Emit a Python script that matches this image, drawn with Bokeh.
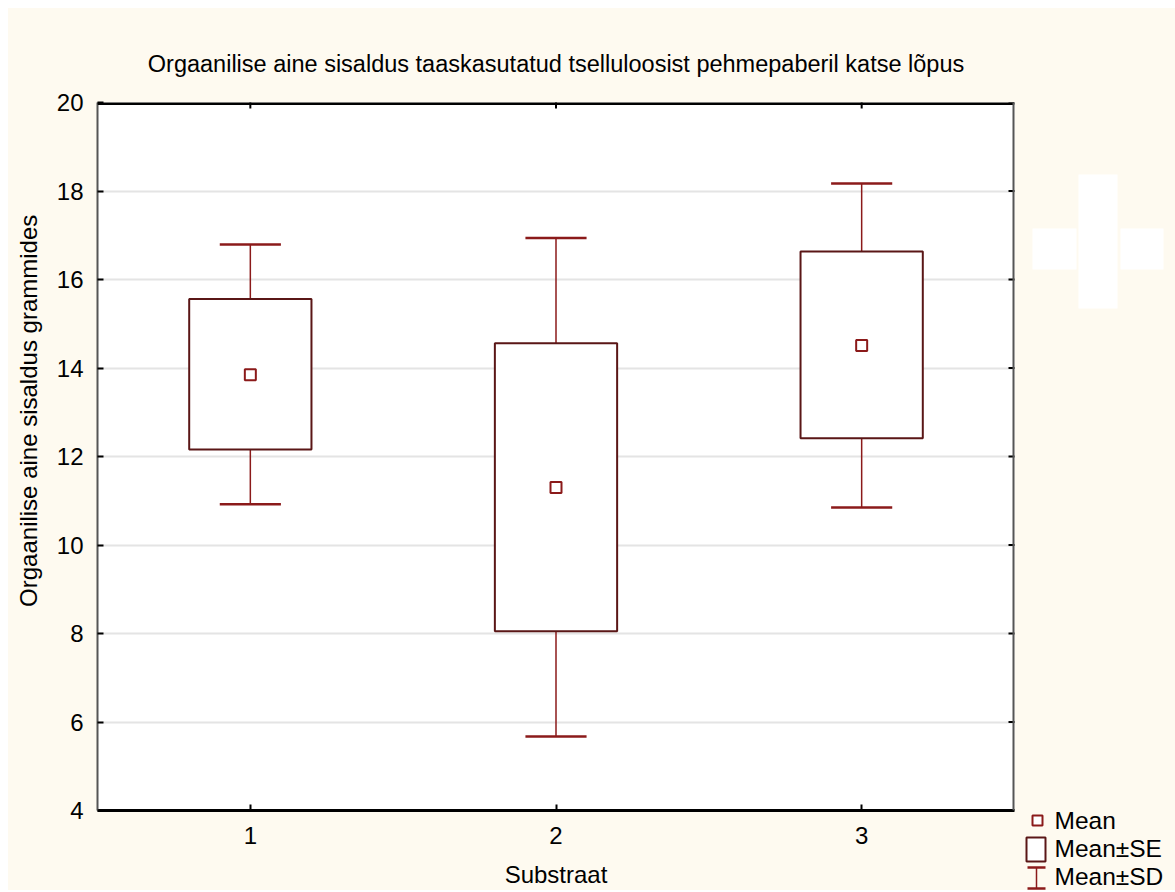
import math
from bokeh.plotting import figure
from bokeh.layouts import row
from bokeh.models import LinearAxis, FixedTicker, Range1d, ColumnDataSource, Span
from bokeh.core.properties import value
from bokeh.embed import file_html
from bokeh.resources import INLINE

# ---- data ----
categories = [1, 2, 3]
tick_labels = ["1", "2", "3"]
means = [13.85, 11.30, 14.51]
se_low = [12.16, 8.05, 12.41]
se_high = [15.56, 14.56, 16.63]
sd_low = [10.92, 5.67, 10.85]
sd_high = [16.79, 16.94, 18.17]
y_ticks = [4, 6, 8, 10, 12, 14, 16, 18, 20]

title_text = "Orgaanilise aine sisaldus taaskasutatud tselluloosist pehmepaberil katse lõpus"
x_label = "Substraat"
y_label = "Orgaanilise aine sisaldus  grammides"
legend_labels = ["Mean", "Mean±SE", "Mean±SD"]

# ---- styles ----
FONT = "Liberation Sans"
FS = "24px"
FS_TITLE = "23.5px"
FS_LEG = "24.5px"
BOX_COLOR = "#5a1616"
WHISK_COLOR = "#8b1a1a"
BG = "#fefaf0"

X0, X1, Y0, Y1 = 0.5, 3.5, 4, 20
# page geometry (pixels): top/left margin 8, frame box
PAGE_T, PAGE_B = 8, 890
FL, FR, FT, FB = 97, 1014, 102, 810
SPLIT_L, SPLIT_R = 48, 1020   # column boundaries between the three panels
H = PAGE_B - PAGE_T

# ================= main chart =================
p = figure(width=SPLIT_R - SPLIT_L, height=H, output_backend="svg", toolbar_location=None,
           x_range=Range1d(X0, X1), y_range=Range1d(Y0, Y1),
           min_border_left=FL - SPLIT_L, min_border_right=SPLIT_R - FR,
           min_border_top=FT - PAGE_T, min_border_bottom=PAGE_B - FB,
           x_axis_location=None, y_axis_location=None, frame_align=False)
p.background_fill_color = "white"
p.border_fill_color = BG
p.outline_line_color = None

p.title.text = title_text
p.title.text_font = FONT
p.title.text_font_size = FS_TITLE
p.title.text_font_style = "normal"
p.title.text_color = "black"
p.title.align = "center"
p.title.standoff = 51


def style_axis(ax, color, lw):
    ax.axis_line_color = color
    ax.axis_line_width = lw
    ax.major_tick_in = 6
    ax.major_tick_out = 0
    ax.major_tick_line_color = "black"
    ax.major_tick_line_width = 2
    ax.minor_tick_line_color = None
    ax.major_label_text_font = FONT
    ax.major_label_text_font_size = FS
    ax.major_label_text_color = "black"


xt = FixedTicker(ticks=categories)
yt = FixedTicker(ticks=y_ticks)

xb = LinearAxis(ticker=xt, major_label_overrides={c: t for c, t in zip(categories, tick_labels)})
style_axis(xb, "black", 3)
xb.major_label_standoff = 16
xb.axis_label = x_label
xb.axis_label_text_font = FONT
xb.axis_label_text_font_size = FS
xb.axis_label_text_font_style = "normal"
xb.axis_label_text_color = "black"
xb.axis_label_standoff = 14
p.add_layout(xb, "below")

yl = LinearAxis(ticker=yt)
style_axis(yl, "#555555", 2)
yl.major_label_standoff = 14
p.add_layout(yl, "left")

p.ygrid.ticker = yt
p.ygrid.grid_line_color = "#e4e4e4"
p.ygrid.grid_line_width = 2
p.xgrid.grid_line_color = None

# top and right frame edges with inside ticks
p.add_layout(Span(location=Y1, dimension="width", line_color="black", line_width=5))
p.add_layout(Span(location=X1, dimension="height", line_color="#555555", line_width=4))
p.scatter(x=categories, y=[Y1] * len(categories), marker="dash", angle=math.pi / 2,
          size=12, line_color="black", line_width=2)
p.scatter(x=[X1] * len(y_ticks), y=y_ticks, marker="dash", size=12,
          line_color="black", line_width=2)

# ---- marks ----
src = ColumnDataSource(dict(x=categories, mean=means, se_low=se_low, se_high=se_high,
                            sd_low=sd_low, sd_high=sd_high,
                            xl=[c - 0.1 for c in categories], xr=[c + 0.1 for c in categories]))

p.segment(x0="x", y0="se_high", x1="x", y1="sd_high", source=src,
          line_color=WHISK_COLOR, line_width=1.5)
p.segment(x0="x", y0="se_low", x1="x", y1="sd_low", source=src,
          line_color=WHISK_COLOR, line_width=1.5)
p.segment(x0="xl", y0="sd_high", x1="xr", y1="sd_high", source=src,
          line_color=WHISK_COLOR, line_width=2.5)
p.segment(x0="xl", y0="sd_low", x1="xr", y1="sd_low", source=src,
          line_color=WHISK_COLOR, line_width=2.5)
p.vbar(x="x", width=0.4, top="se_high", bottom="se_low", source=src,
       fill_color="white", line_color=BOX_COLOR, line_width=2)
p.scatter(x="x", y="mean", source=src, marker="square", size=11,
          fill_color="white", line_color=WHISK_COLOR, line_width=2)


def side_panel(x_lo, x_hi):
    f = figure(width=x_hi - x_lo, height=H, output_backend="svg", toolbar_location=None,
               x_range=Range1d(x_lo, x_hi), y_range=Range1d(PAGE_B, PAGE_T),
               min_border=0, x_axis_location=None, y_axis_location=None,
               frame_align=False)
    f.background_fill_color = BG
    f.border_fill_color = BG
    f.outline_line_color = None
    f.grid.visible = False
    return f


# ================= left strip: y-axis title =================
left = side_panel(PAGE_T, SPLIT_L)
left.text(x=[28], y=[407], text=[y_label], angle=math.pi / 2,
          text_align="center", text_baseline="middle",
          text_font=value(FONT), text_font_size=FS, text_color="black")

# ================= right strip: legend and white cross =================
right = side_panel(SPLIT_R, 1175)
# white cross shape
right.quad(left=[1078, 1032, 1120], right=[1117, 1076, 1163],
           top=[174, 228, 228], bottom=[308, 269, 269],
           fill_color="white", line_color=None)
# legend symbols
right.quad(left=[1032], right=[1042], top=[815], bottom=[825],
           fill_color="white", line_color=WHISK_COLOR, line_width=2)
right.quad(left=[1026], right=[1045], top=[837], bottom=[861],
           fill_color="white", line_color=BOX_COLOR, line_width=2)
right.segment(x0=[1036], y0=[867], x1=[1036], y1=[888], line_color=WHISK_COLOR, line_width=1.5)
right.segment(x0=[1027, 1027], y0=[867, 888], x1=[1045, 1045], y1=[867, 888],
              line_color=WHISK_COLOR, line_width=2.5)
right.text(x=[1054] * 3, y=[820, 848, 876], text=legend_labels,
           text_align="left", text_baseline="middle",
           text_font=value(FONT), text_font_size=FS_LEG, text_color="black")

layout = row(left, p, right, margin=(PAGE_T, 0, 0, 8), spacing=0,
             styles={"background-color": BG})

open("out.html", "w").write(file_html(layout, INLINE))
